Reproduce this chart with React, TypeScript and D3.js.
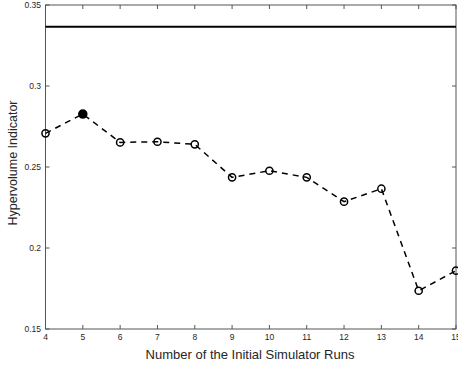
import React from "react";
import * as d3 from "d3";

const runs = [4, 5, 6, 7, 8, 9, 10, 11, 12, 13, 14, 15];
const hvValues = [0.2708, 0.2827, 0.2652, 0.2656, 0.264, 0.2436, 0.2477, 0.2436, 0.2286, 0.2366, 0.1736, 0.186];
const filledRun = [5];
const referenceLevel = [0.3366];
const xTicks = [4, 5, 6, 7, 8, 9, 10, 11, 12, 13, 14, 15];
const yTicks = [0.15, 0.2, 0.25, 0.3, 0.35];
const yTickLabels = ["0.15", "0.2", "0.25", "0.3", "0.35"];

const W = 458;
const H = 369;
const left = 45.5;
const right = 456;
const top = 5;
const bottom = 329;

export default function App() {
  const x = d3.scaleLinear().domain([4, 15]).range([left, right]);
  const y = d3.scaleLinear().domain([0.15, 0.35]).range([bottom, top]);
  const line = d3
    .line<number>()
    .x((_, i) => x(runs[i]))
    .y((d) => y(d));
  const axisColor = "#555";
  const font = "'Liberation Sans', Arial, Helvetica, sans-serif";
  const tl = 4;
  return (
    <svg
      width={W}
      height={H}
      style={{ position: "absolute", left: 0, top: 0, background: "#fff" }}
      fontFamily={font}
    >
      <rect x={0} y={0} width={W} height={H} fill="#fff" />
      <rect x={left} y={top} width={right - left} height={bottom - top} fill="none" stroke={axisColor} strokeWidth={1} />
      {xTicks.map((t) => (
        <g key={"x" + t}>
          <line x1={x(t)} x2={x(t)} y1={bottom} y2={bottom - tl} stroke={axisColor} />
          <line x1={x(t)} x2={x(t)} y1={top} y2={top + tl} stroke={axisColor} />
          <text x={x(t)} y={340} fontSize={8.5} textAnchor="middle" fill="#262626">
            {t}
          </text>
        </g>
      ))}
      {yTicks.map((t, i) => (
        <g key={"y" + t}>
          <line x1={left} x2={left + tl} y1={y(t)} y2={y(t)} stroke={axisColor} />
          <line x1={right} x2={right - tl} y1={y(t)} y2={y(t)} stroke={axisColor} />
          <text x={41} y={y(t) + 3} fontSize={8.5} textAnchor="end" fill="#262626">
            {yTickLabels[i]}
          </text>
        </g>
      ))}
      <line x1={left} x2={right} y1={y(referenceLevel[0])} y2={y(referenceLevel[0])} stroke="#000" strokeWidth={2} />
      <path d={line(hvValues) || ""} fill="none" stroke="#000" strokeWidth={1.5} strokeDasharray="6,5" />
      {hvValues.map((v, i) => (
        <circle
          key={"c" + i}
          cx={x(runs[i])}
          cy={y(v)}
          r={filledRun.includes(runs[i]) ? 4 : 3.6}
          fill={filledRun.includes(runs[i]) ? "#000" : "none"}
          stroke="#000"
          strokeWidth={1.5}
        />
      ))}
      <text x={250} y={359} fontSize={13} textAnchor="middle" fill="#262626">
        Number of the Initial Simulator Runs
      </text>
      <text
        transform={`translate(17,163) rotate(-90)`}
        fontSize={12.5}
        textAnchor="middle"
        fill="#262626"
      >
        Hypervolume Indicator
      </text>
    </svg>
  );
}
